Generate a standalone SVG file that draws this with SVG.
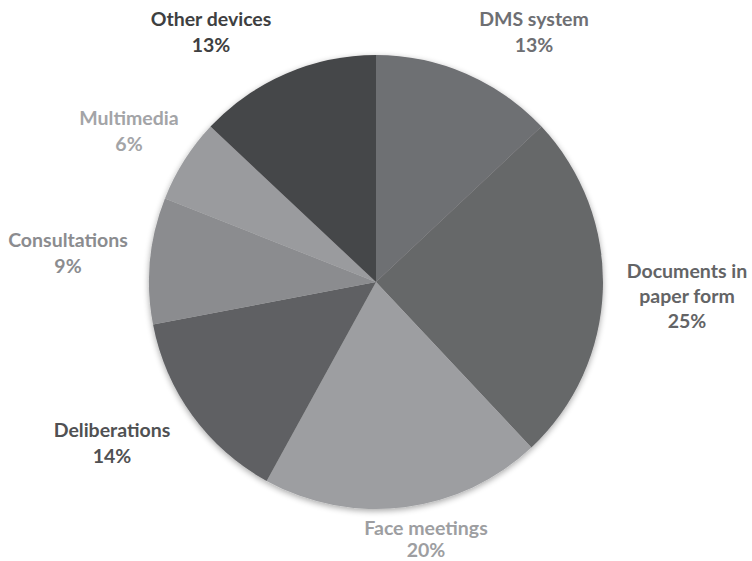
<svg xmlns="http://www.w3.org/2000/svg" width="752" height="561" viewBox="0 0 752 561">
<defs>
<filter id="sh" x="-10%" y="-10%" width="120%" height="120%">
<feGaussianBlur in="SourceAlpha" stdDeviation="3"/>
<feOffset dx="0" dy="2" result="b"/>
<feComponentTransfer><feFuncA type="linear" slope="0.35"/></feComponentTransfer>
<feMerge><feMergeNode/><feMergeNode in="SourceGraphic"/></feMerge>
</filter>
</defs>
<style>
text{font-family:Lato,"Open Sans","Liberation Sans",sans-serif;font-weight:bold;font-size:19.5px;text-anchor:middle}
</style>
<rect width="752" height="561" fill="#ffffff"/>
<g id="pie" filter="url(#sh)">
<g id="dms"><path d="M376,282 L376,55 A227,227 0 0 1 541.48,126.62 Z" fill="#6e6f73"/></g>
<g id="docs"><path d="M376,282 L541.48,126.62 A227,227 0 0 1 531.38,447.48 Z" fill="#666769"/></g>
<g id="face"><path d="M376,282 L531.38,447.48 A227,227 0 0 1 266.63,480.92 Z" fill="#9d9ea1"/></g>
<g id="delib"><path d="M376,282 L266.63,480.92 A227,227 0 0 1 153.02,324.54 Z" fill="#5f6063"/></g>
<g id="consult"><path d="M376,282 L153.02,324.54 A227,227 0 0 1 164.94,198.44 Z" fill="#8b8c8f"/></g>
<g id="multi"><path d="M376,282 L164.94,198.44 A227,227 0 0 1 210.52,126.62 Z" fill="#9a9b9e"/></g>
<g id="other"><path d="M376,282 L210.52,126.62 A227,227 0 0 1 376,55 Z" fill="#454648"/></g>
</g>
<g id="labels">
<g id="l-other" fill="#3e3f41"><text x="211" y="26">Other devices</text><text x="211" y="52">13%</text></g>
<g id="l-dms" fill="#6e6f73"><text x="534" y="26">DMS system</text><text x="534" y="52">13%</text></g>
<g id="l-multi" fill="#a3a4a7"><text x="129" y="125">Multimedia</text><text x="129" y="151">6%</text></g>
<g id="l-consult" fill="#8b8c8f"><text x="68" y="247">Consultations</text><text x="68" y="273">9%</text></g>
<g id="l-delib" fill="#505153"><text x="112" y="437">Deliberations</text><text x="112" y="463">14%</text></g>
<g id="l-docs" fill="#636466"><text x="687" y="278">Documents in</text><text x="687" y="303">paper form</text><text x="687" y="328">25%</text></g>
<g id="l-face" fill="#9d9ea1"><text x="426" y="535">Face meetings</text><text x="426" y="557">20%</text></g>
</g>
</svg>
